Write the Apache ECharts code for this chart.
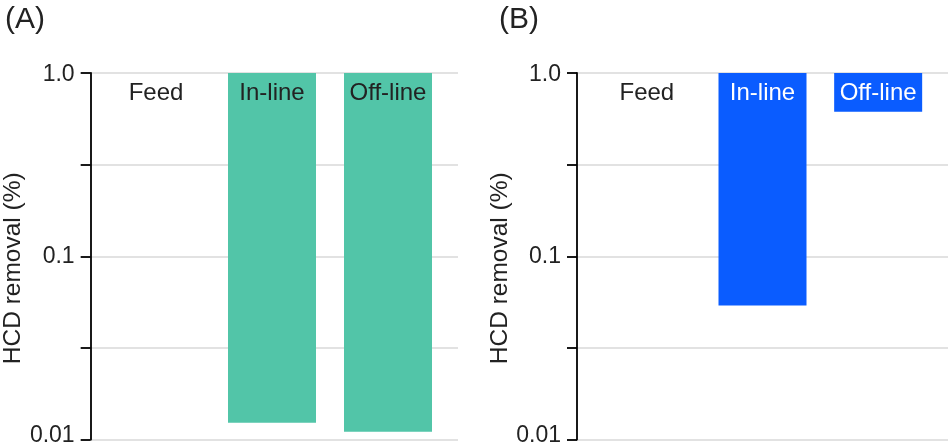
<!DOCTYPE html>
<html>
<head>
<meta charset="utf-8">
<script src="https://cdn.jsdelivr.net/npm/echarts@6/dist/echarts.min.js"></script>
<style>
html,body{margin:0;padding:0;background:#fff;}
#c{width:949px;height:447px;}
</style>
</head>
<body>
<div id="c"></div>
<script>
// ---- data ----
const categories = ['Feed', 'In-line', 'Off-line'];
const removalA = [1.0, 0.0124, 0.0111];   // HCD removal (%), panel A
const removalB = [1.0, 0.054, 0.614];     // HCD removal (%), panel B
const yTickValues = [0.01, 0.1, 1.0];
const yTickLabels = ['0.01', '0.1', '1.0'];
const panelTitles = ['(A)', '(B)'];
const yAxisTitle = 'HCD removal (%)';

// ---- styles ----
const FONT = '"Liberation Sans", Arial, sans-serif';
const TXT = '#222222';
const colorsA = '#52C5A8';
const colorsB = '#0A5CFF';
const labelColorsA = [TXT, TXT, TXT];
const labelColorsB = [TXT, '#ffffff', '#ffffff'];

const log10 = v => Math.log10(v);
const yMin = log10(yTickValues[0]);
const yMax = log10(yTickValues[yTickValues.length - 1]);

function tickFormatter(v) {
  const i = yTickValues.findIndex(t => Math.abs(log10(t) - v) < 1e-6);
  if (i < 0) return '';
  if (i === 0) return '{low|' + yTickLabels[i] + '}';
  if (i === yTickValues.length - 1) return '{high|' + yTickLabels[i] + '}';
  return yTickLabels[i];
}

const panels = [
  {left: 86, width: 372, values: removalA, color: colorsA, labelColors: labelColorsA, title: panelTitles[0], titleLeft: 0},
  {left: 577, width: 371, values: removalB, color: colorsB, labelColors: labelColorsB, title: panelTitles[1], titleLeft: 494}
];
const TOP = 73, HEIGHT = 367, PAD = 12;

const grid = [], xAxis = [], yAxis = [], series = [], title = [];
panels.forEach((p, k) => {
  const gFrame = grid.length;
  grid.push({left: p.left, top: TOP, width: p.width, height: HEIGHT});
  grid.push({left: p.left + PAD, top: TOP, width: p.width - 2 * PAD, height: HEIGHT});
  // frame grid axes (gridlines, y axis, title)
  xAxis.push({gridIndex: gFrame, type: 'value', show: false, min: 0, max: 1});
  yAxis.push({
    gridIndex: gFrame, type: 'value', min: yMin, max: yMax, interval: 0.5,
    name: yAxisTitle, nameLocation: 'middle', nameGap: 59,
    nameTextStyle: {fontFamily: FONT, fontSize: 24.5, color: TXT, padding: [0, 24, 0, 0]},
    axisLine: {show: true, lineStyle: {color: '#000', width: 1.8}},
    axisTick: {show: true, length: 10, lineStyle: {color: '#000', width: 1.8}},
    axisLabel: {
      margin: 16, fontFamily: FONT, fontSize: 23, color: TXT, formatter: tickFormatter,
      rich: {
        low: {fontFamily: FONT, fontSize: 23, color: TXT, padding: [0, 0, 8, 0]},
        high: {fontFamily: FONT, fontSize: 23, color: TXT, padding: [4, 0, 0, 0]}
      }
    },
    splitLine: {show: true, lineStyle: {color: '#d9d9d9', width: 1.5}}
  });
  // bar grid axes
  const xi = xAxis.length, yi = yAxis.length;
  xAxis.push({
    gridIndex: gFrame + 1, type: 'category', data: categories, position: 'top', z: 10,
    axisLine: {show: false}, axisTick: {show: false}, splitLine: {show: false},
    axisLabel: {
      inside: true, margin: 8, fontFamily: FONT, fontSize: 24,
      color: (val, idx) => p.labelColors[idx]
    }
  });
  yAxis.push({gridIndex: gFrame + 1, type: 'value', min: yMin, max: yMax, show: false, splitLine: {show: false}});
  series.push({
    type: 'bar', xAxisIndex: xi, yAxisIndex: yi, barWidth: 88,
    itemStyle: {color: p.color},
    data: p.values.map(v => log10(v))
  });
  title.push({text: p.title, left: p.titleLeft, top: 0,
    textStyle: {fontFamily: FONT, fontSize: 30, fontWeight: 'normal', color: TXT}});
});

const chart = echarts.init(document.getElementById('c'), null, {renderer: 'canvas'});
chart.setOption({animation: false, title, grid, xAxis, yAxis, series});
</script>
</body>
</html>
